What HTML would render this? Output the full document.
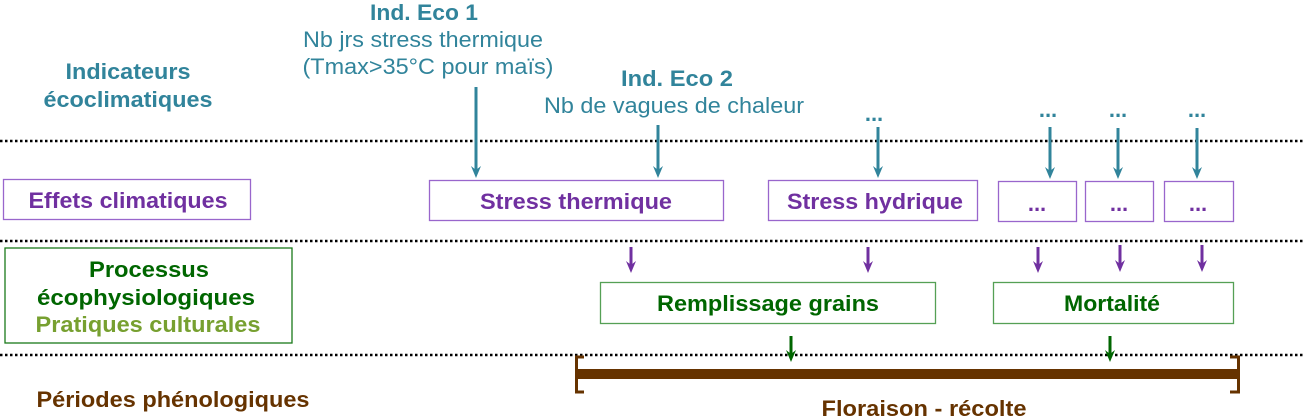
<!DOCTYPE html>
<html><head><meta charset="utf-8"><style>
html,body{margin:0;padding:0;background:#fff;}
svg{display:block;font-family:"Liberation Sans",sans-serif;}
</style></head><body>
<svg width="1304" height="418" viewBox="0 0 1304 418" xmlns="http://www.w3.org/2000/svg">
<g stroke="#000" stroke-width="2.5" stroke-dasharray="2.5 2.5">
<line x1="0" y1="141" x2="1304" y2="141"/>
<line x1="0" y1="241" x2="1304" y2="241"/>
<line x1="0" y1="355" x2="1304" y2="355"/>
</g>
<g fill="#31849b" text-anchor="middle">
<text x="424" y="20" font-size="22" font-weight="bold" textLength="108" lengthAdjust="spacingAndGlyphs">Ind. Eco 1</text>
<text x="423" y="47" font-size="22" textLength="240" lengthAdjust="spacingAndGlyphs">Nb jrs stress thermique</text>
<text x="428" y="74" font-size="22" textLength="251" lengthAdjust="spacingAndGlyphs">(Tmax&gt;35°C pour maïs)</text>
<text x="128" y="79" font-size="22" font-weight="bold" textLength="125" lengthAdjust="spacingAndGlyphs">Indicateurs</text>
<text x="128" y="107" font-size="22" font-weight="bold" textLength="169" lengthAdjust="spacingAndGlyphs">écoclimatiques</text>
<text x="677" y="86" font-size="22" font-weight="bold" textLength="112" lengthAdjust="spacingAndGlyphs">Ind. Eco 2</text>
<text x="674" y="113" font-size="22" textLength="260" lengthAdjust="spacingAndGlyphs">Nb de vagues de chaleur</text>
<text x="874" y="121" font-size="22" font-weight="bold">...</text>
<text x="1048" y="117" font-size="22" font-weight="bold">...</text>
<text x="1118" y="117" font-size="22" font-weight="bold">...</text>
<text x="1197" y="117" font-size="22" font-weight="bold">...</text>
</g>
<g stroke="#31849b" stroke-width="3">
<line x1="476" y1="87" x2="476" y2="172"/>
<line x1="658" y1="125" x2="658" y2="172"/>
<line x1="878" y1="127" x2="878" y2="172"/>
<line x1="1050" y1="127" x2="1050" y2="173"/>
<line x1="1118" y1="128" x2="1118" y2="173"/>
<line x1="1197" y1="128" x2="1197" y2="173"/>
</g>
<g fill="#31849b">
<path d="M471,166 L476,170 L481,166 L476,178 Z"/>
<path d="M653,166 L658,170 L663,166 L658,178 Z"/>
<path d="M873,166 L878,170 L883,166 L878,178 Z"/>
<path d="M1045,167 L1050,171 L1055,167 L1050,179 Z"/>
<path d="M1113,167 L1118,171 L1123,167 L1118,179 Z"/>
<path d="M1192,167 L1197,171 L1202,167 L1197,179 Z"/>
</g>
<g fill="#fff" stroke="#9966cc" stroke-width="1.3">
<rect x="3.5" y="179.5" width="247" height="40"/>
<rect x="429.5" y="180.5" width="294" height="40"/>
<rect x="768.5" y="180.5" width="209" height="40"/>
<rect x="998.5" y="181.5" width="78" height="40"/>
<rect x="1085.5" y="181.5" width="68" height="40"/>
<rect x="1164.5" y="181.5" width="69" height="40"/>
</g>
<g fill="#7030a0" font-weight="bold" text-anchor="middle" font-size="22">
<text x="128" y="208" textLength="199" lengthAdjust="spacingAndGlyphs">Effets climatiques</text>
<text x="576" y="209" textLength="192" lengthAdjust="spacingAndGlyphs">Stress thermique</text>
<text x="875" y="209" textLength="176" lengthAdjust="spacingAndGlyphs">Stress hydrique</text>
<text x="1037" y="211">...</text>
<text x="1119" y="211">...</text>
<text x="1198" y="211">...</text>
</g>
<g stroke="#7030a0" stroke-width="3">
<line x1="631" y1="247" x2="631" y2="266"/>
<line x1="868" y1="247" x2="868" y2="266"/>
<line x1="1038" y1="247" x2="1038" y2="266"/>
<line x1="1120" y1="245" x2="1120" y2="265"/>
<line x1="1202" y1="245" x2="1202" y2="265"/>
</g>
<g fill="#7030a0">
<path d="M626,261 L631,265 L636,261 L631,273 Z"/>
<path d="M863,261 L868,265 L873,261 L868,273 Z"/>
<path d="M1033,261 L1038,265 L1043,261 L1038,273 Z"/>
<path d="M1115,260 L1120,264 L1125,260 L1120,272 Z"/>
<path d="M1197,260 L1202,264 L1207,260 L1202,272 Z"/>
</g>
<g fill="#fff" stroke-width="1.3">
<rect x="5" y="248" width="287" height="95" stroke="#1a7a1a"/>
<rect x="600.5" y="282.5" width="335" height="41" stroke="#55a055"/>
<rect x="993.5" y="282.5" width="240" height="41" stroke="#55a055"/>
</g>
<g font-weight="bold" text-anchor="middle" font-size="22">
<text x="149" y="277" fill="#006600" textLength="120" lengthAdjust="spacingAndGlyphs">Processus</text>
<text x="146" y="305" fill="#006600" textLength="218" lengthAdjust="spacingAndGlyphs">écophysiologiques</text>
<text x="148" y="332" fill="#77a030" textLength="225" lengthAdjust="spacingAndGlyphs">Pratiques culturales</text>
<text x="768" y="311" fill="#006600" textLength="222" lengthAdjust="spacingAndGlyphs">Remplissage grains</text>
<text x="1112" y="311" fill="#006600" textLength="96" lengthAdjust="spacingAndGlyphs">Mortalité</text>
<text x="173" y="407" fill="#663300" textLength="273" lengthAdjust="spacingAndGlyphs">Périodes phénologiques</text>
<text x="924" y="416" fill="#663300" textLength="205" lengthAdjust="spacingAndGlyphs">Floraison - récolte</text>
</g>
<g stroke="#006600" stroke-width="3">
<line x1="791" y1="336" x2="791" y2="355"/>
<line x1="1110" y1="336" x2="1110" y2="355"/>
</g>
<g fill="#006600">
<path d="M786,350 L791,354 L796,350 L791,362 Z"/>
<path d="M1105,350 L1110,354 L1115,350 L1110,362 Z"/>
</g>
<rect x="577" y="369" width="660" height="10" fill="#663300"/>
<path d="M584,357 L576.5,357 L576.5,392 L584,392" fill="none" stroke="#663300" stroke-width="3"/>
<path d="M1230,357 L1238.5,357 L1238.5,392 L1230,392" fill="none" stroke="#663300" stroke-width="3"/>
</svg>
</body></html>
